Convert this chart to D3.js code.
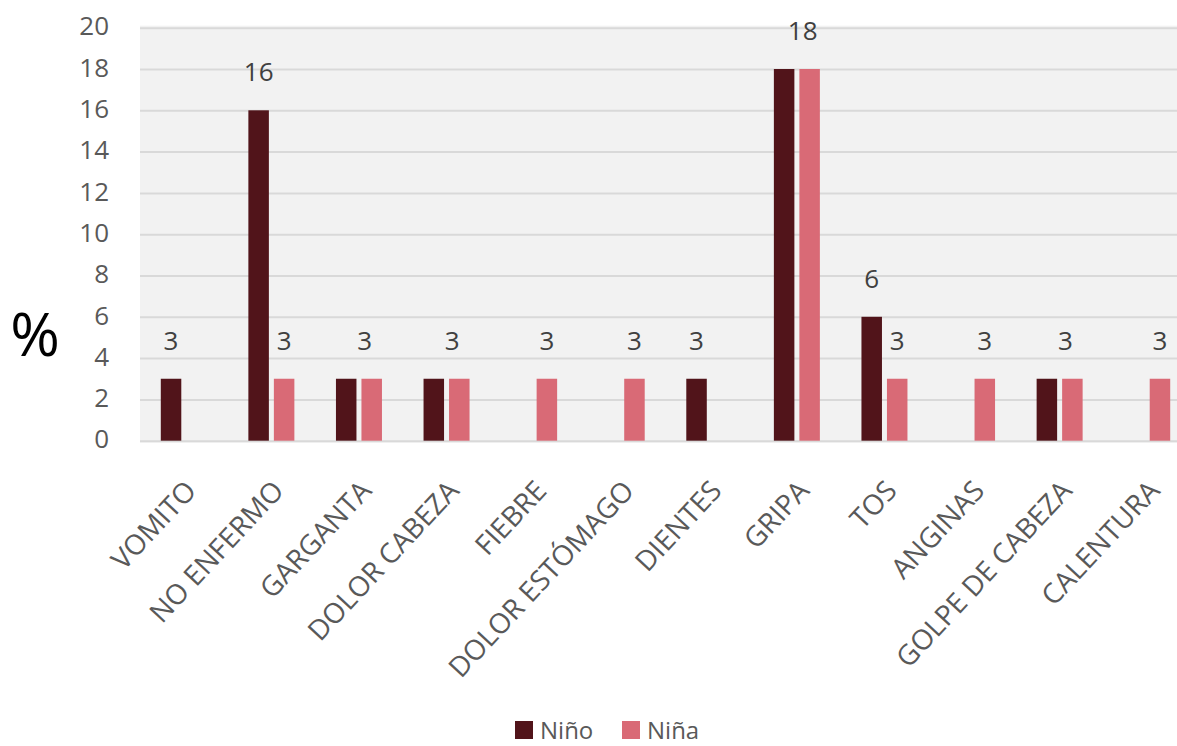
<!DOCTYPE html>
<html>
<head>
<meta charset="utf-8">
<script src="https://cdn.jsdelivr.net/npm/d3@7"></script>
<style>
  html, body { margin: 0; padding: 0; background: #ffffff; }
  svg { display: block; }
  text { font-family: "Open Sans", "Noto Sans", sans-serif; }
</style>
</head>
<body>
<svg id="chart" width="1177" height="746"></svg>
<script>
// Illness reported, percentage by sex
const categories = ["VOMITO", "NO ENFERMO", "GARGANTA", "DOLOR CABEZA", "FIEBRE",
  "DOLOR ESTÓMAGO", "DIENTES", "GRIPA", "TOS", "ANGINAS", "GOLPE DE CABEZA", "CALENTURA"];
const series = ["Niño", "Niña"];
const nino = [3, 16, 3, 3, 0, 0, 3, 18, 6, 0, 3, 0];
const nina = [0, 3, 3, 3, 3, 3, 0, 18, 3, 3, 3, 3];
// Which value labels are shown per category: "Niño", "Niña", or "shared" (one label for equal bars)
const valueLabels = [["Niño"], ["Niño", "Niña"], ["shared"], ["shared"], ["Niña"], ["Niña"],
  ["Niño"], ["shared"], ["Niño", "Niña"], ["Niña"], ["shared"], ["Niña"]];
const yTicks = [0, 2, 4, 6, 8, 10, 12, 14, 16, 18, 20];
const colors = { "Niño": "#51141a", "Niña": "#d96a76" };

const svg = d3.select("#chart");
const plot = { left: 140, right: 1191, top: 27.7, bottom: 440.7 };

const x0 = d3.scaleBand().domain(categories).range([plot.left, plot.right]).padding(0);
const x1 = d3.scaleBand().domain(series).range([-23, 23]).paddingInner(0.196).paddingOuter(0);
const y = d3.scaleLinear().domain([0, 20]).range([plot.bottom, plot.top]);

// plot background
svg.append("rect")
  .attr("x", plot.left).attr("y", plot.top - 2)
  .attr("width", plot.right - plot.left).attr("height", plot.bottom - plot.top + 4)
  .attr("fill", "#f2f2f2");

// gridlines and tick labels via a left axis
const yAxis = d3.axisLeft(y).tickValues(yTicks).tickSize(-(plot.right - plot.left)).tickPadding(31);
const gy = svg.append("g").attr("transform", `translate(${plot.left},0)`).call(yAxis);
gy.select(".domain").remove();
gy.selectAll(".tick line").attr("stroke", "#d9d9d9").attr("stroke-width", 2);
gy.selectAll(".tick text")
  .attr("fill", "#595959").attr("font-size", 26).attr("dy", "0.28em");

// bars
const rows = categories.map((c, i) => ({ cat: c, values: { "Niño": nino[i], "Niña": nina[i] }, labels: valueLabels[i] }));
const groups = svg.append("g").selectAll("g").data(rows).join("g")
  .attr("transform", d => `translate(${x0(d.cat) + x0.bandwidth() / 2},0)`);

groups.selectAll("rect")
  .data(d => series.filter(s => d.values[s] > 0).map(s => ({ s, v: d.values[s] })))
  .join("rect")
  .attr("x", d => x1(d.s))
  .attr("width", x1.bandwidth())
  .attr("y", d => y(d.v))
  .attr("height", d => y(0) - y(d.v))
  .attr("fill", d => colors[d.s]);

// value labels
groups.selectAll("text.val")
  .data(d => d.labels.map(l => {
    if (l === "shared") {
      return { x: x1("Niña") + x1.bandwidth() / 2 - 7, v: d.values["Niña"] };
    }
    return { x: x1(l) + x1.bandwidth() / 2, v: d.values[l] };
  }))
  .join("text")
  .attr("class", "val")
  .attr("x", d => d.x)
  .attr("y", d => y(d.v) - 29)
  .attr("text-anchor", "middle")
  .attr("font-size", 26)
  .attr("fill", "#404040")
  .text(d => d.v);

// category labels, rotated
svg.append("g").selectAll("text").data(categories).join("text")
  .attr("transform", d => `translate(${x0(d) + x0.bandwidth() / 2 + 14},${492}) rotate(-47)`)
  .attr("text-anchor", "end")
  .attr("font-size", 28)
  .attr("fill", "#595959")
  .text(d => d);

// y axis title
svg.append("text")
  .attr("x", 35).attr("y", 356)
  .attr("text-anchor", "middle")
  .attr("font-size", 60)
  .attr("fill", "#000000")
  .text("%");

// legend
const legend = svg.append("g").selectAll("g").data(series).join("g")
  .attr("transform", (d, i) => `translate(${515 + i * 107},721)`);
legend.append("rect").attr("width", 18).attr("height", 18).attr("fill", d => colors[d]);
legend.append("text").attr("x", 25).attr("y", 18).attr("font-size", 24)
  .attr("fill", "#595959").text(d => d);
</script>
</body>
</html>
